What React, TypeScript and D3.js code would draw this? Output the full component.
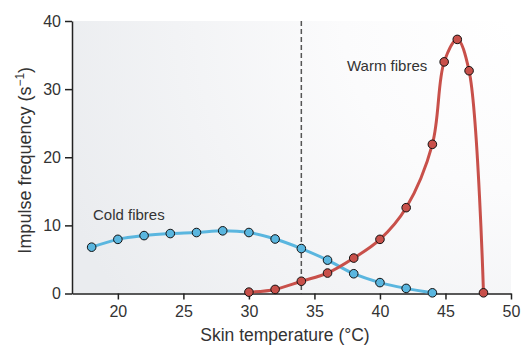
import React, { useEffect, useRef } from 'react';
import * as d3 from 'd3';

// Cold fibre readings
const coldTemps = [18, 20, 22, 24, 26, 28, 30, 32, 34, 36, 38, 40, 42, 44];
const coldRates = [6.8, 7.95, 8.5, 8.8, 8.95, 9.2, 8.95, 8.0, 6.6, 4.9, 2.9, 1.6, 0.75, 0.1];

// Warm fibre readings
const warmTemps = [30, 32, 34, 36, 38, 40, 42, 44, 44.9, 45.9, 46.8, 47.9];
const warmRates = [0.2, 0.6, 1.8, 3.0, 5.2, 7.95, 12.6, 21.9, 34.0, 37.3, 32.7, 0.1];

const xTicks = [20, 25, 30, 35, 40, 45, 50];
const yTicks = [0, 10, 20, 30, 40];
const neutralTemp = 34;

const W = 531;
const H = 348;

const App = () => {
  const ref = useRef<SVGSVGElement>(null);

  useEffect(() => {
    const svg = d3.select(ref.current);
    svg.selectAll('*').remove();

    const left = 72, right = 511, top = 21, bottom = 293.5;
    const x = d3.scaleLinear().domain([16.5, 50]).range([left, right]);
    const y = d3.scaleLinear().domain([0, 40]).range([bottom, top]);
    const font = '"Liberation Sans", Arial, sans-serif';
    const textCol = '#333';

    // background shading
    const defs = svg.append('defs');
    const grad = defs.append('radialGradient')
      .attr('id', 'bg')
      .attr('gradientUnits', 'userSpaceOnUse')
      .attr('cx', right).attr('cy', top)
      .attr('r', 480);
    grad.append('stop').attr('offset', '0%').attr('stop-color', '#ffffff');
    grad.append('stop').attr('offset', '35%').attr('stop-color', '#fbfbfc');
    grad.append('stop').attr('offset', '100%').attr('stop-color', '#eaecef');

    svg.append('rect')
      .attr('x', left).attr('y', top)
      .attr('width', right - left).attr('height', bottom - top)
      .attr('fill', 'url(#bg)');

    // dashed reference line
    svg.append('line')
      .attr('x1', x(neutralTemp)).attr('x2', x(neutralTemp))
      .attr('y1', y(40)).attr('y2', bottom)
      .attr('stroke', '#555')
      .attr('stroke-width', 1.5)
      .attr('stroke-dasharray', '5,3');

    // axes
    const xAxis = svg.append('g')
      .attr('transform', `translate(0,${bottom})`)
      .call(d3.axisBottom(x).tickValues(xTicks).tickSize(6).tickSizeOuter(0));
    const yAxis = svg.append('g')
      .attr('transform', `translate(${left},0)`)
      .call(d3.axisLeft(y).tickValues(yTicks).tickSize(7).tickSizeOuter(0));

    [xAxis, yAxis].forEach(g => {
      g.select('.domain').attr('stroke', '#222').attr('stroke-width', 1.5);
      g.selectAll('.tick line').attr('stroke', '#222').attr('stroke-width', 1.5);
      g.selectAll('.tick text')
        .attr('fill', textCol)
        .style('font-family', font)
        .style('font-size', '16px');
    });
    xAxis.selectAll('.tick text').attr('dy', '0.9em');
    yAxis.selectAll('.tick text').attr('x', -11);

    // axis titles
    svg.append('text')
      .attr('x', 285).attr('y', 341)
      .attr('text-anchor', 'middle')
      .attr('fill', textCol)
      .style('font-family', font).style('font-size', '17.5px')
      .text('Skin temperature (°C)');

    const yt = svg.append('text')
      .attr('transform', `translate(31,${(top + bottom) / 2 + 3}) rotate(-90)`)
      .attr('text-anchor', 'middle')
      .attr('fill', textCol)
      .style('font-family', font).style('font-size', '18px');
    yt.append('tspan').text('Impulse frequency (s');
    yt.append('tspan').text('−1').attr('dy', -7).style('font-size', '12px');
    yt.append('tspan').text(')').attr('dy', 7);

    const drawSeries = (temps: number[], rates: number[], col: string) => {
      const pts = temps.map((t, i) => [x(t), y(rates[i])] as [number, number]);
      svg.append('path')
        .attr('d', d3.line().curve(d3.curveCatmullRom.alpha(0.5))(pts))
        .attr('fill', 'none')
        .attr('stroke', col)
        .attr('stroke-width', 3);
      svg.append('g').selectAll('circle')
        .data(pts)
        .enter()
        .append('circle')
        .attr('cx', d => d[0])
        .attr('cy', d => d[1])
        .attr('r', 4.3)
        .attr('fill', col)
        .attr('stroke', '#111')
        .attr('stroke-width', 1);
    };

    drawSeries(coldTemps, coldRates, '#5ab6df');
    drawSeries(warmTemps, warmRates, '#c8504a');

    // series labels
    svg.append('text')
      .attr('x', 93).attr('y', 220)
      .attr('fill', textCol)
      .style('font-family', font).style('font-size', '15px')
      .text('Cold fibres');
    svg.append('text')
      .attr('x', 347).attr('y', 71)
      .attr('fill', textCol)
      .style('font-family', font).style('font-size', '15px')
      .text('Warm fibres');
  }, []);

  return (
    <svg ref={ref} width={W} height={H} style={{ position: 'absolute', left: 0, top: 0 }} />
  );
};

export default App;
